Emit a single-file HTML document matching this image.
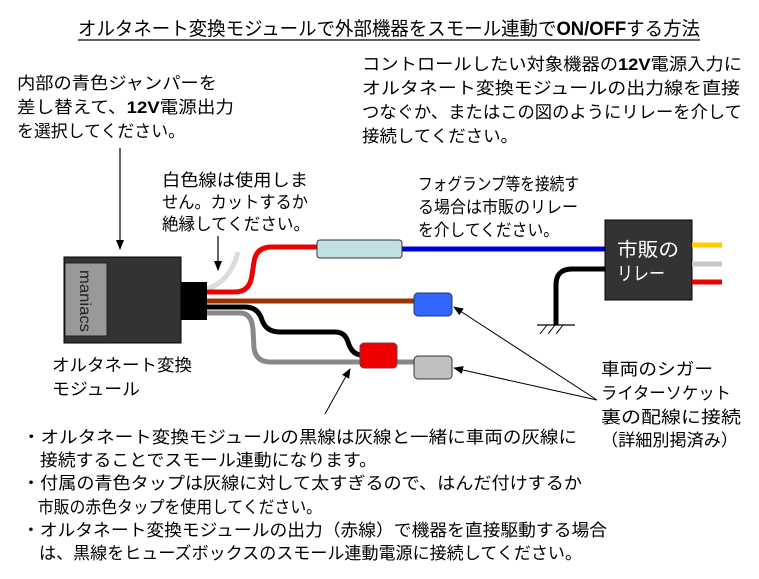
<!DOCTYPE html>
<html><head><meta charset="utf-8"><style>
html,body{margin:0;padding:0;background:#fff;}
svg{display:block;}
text{font-family:"Liberation Sans","Noto Sans CJK JP",sans-serif;font-size:17px;fill:#000;}
</style></head><body>
<svg width="759" height="579" viewBox="0 0 759 579" xmlns="http://www.w3.org/2000/svg">
<defs>
<marker id="ah" markerWidth="10" markerHeight="8" refX="9" refY="4" orient="auto" markerUnits="userSpaceOnUse">
<path d="M0,0 L10,4 L0,8 Z" fill="#000"/></marker>
</defs>
<!-- title -->
<text x="78" y="35" textLength="622" lengthAdjust="spacingAndGlyphs" style="font-size:19px">オルタネート変換モジュールで外部機器をスモール連動で<tspan font-weight="bold">ON/OFF</tspan>する方法</text>
<line x1="78" y1="40" x2="700" y2="40" stroke="#000" stroke-width="1.2"/>
<!-- left text -->
<text x="17" y="89" textLength="200" lengthAdjust="spacingAndGlyphs">内部の青色ジャンパーを</text>
<text x="17" y="113" textLength="217" lengthAdjust="spacingAndGlyphs">差し替えて、<tspan font-weight="bold">12V</tspan>電源出力</text>
<text x="17" y="137" textLength="168" lengthAdjust="spacingAndGlyphs">を選択してください。</text>
<!-- right text -->
<text x="362" y="70" textLength="380" lengthAdjust="spacingAndGlyphs">コントロールしたい対象機器の<tspan font-weight="bold">12V</tspan>電源入力に</text>
<text x="362" y="94" textLength="378" lengthAdjust="spacingAndGlyphs">オルタネート変換モジュールの出力線を直接</text>
<text x="362" y="118" textLength="380" lengthAdjust="spacingAndGlyphs">つなぐか、またはこの図のようにリレーを介して</text>
<text x="362" y="142" textLength="156" lengthAdjust="spacingAndGlyphs">接続してください。</text>
<!-- white wire note -->
<text x="162" y="186" textLength="146" lengthAdjust="spacingAndGlyphs">白色線は使用しま</text>
<text x="162" y="208" textLength="146" lengthAdjust="spacingAndGlyphs">せん。カットするか</text>
<text x="162" y="230" textLength="148" lengthAdjust="spacingAndGlyphs">絶縁してください。</text>
<!-- fog note -->
<text x="418" y="190" textLength="161" lengthAdjust="spacingAndGlyphs">フォグランプ等を接続す</text>
<text x="418" y="213" textLength="160" lengthAdjust="spacingAndGlyphs">る場合は市販のリレー</text>
<text x="418" y="236" textLength="141" lengthAdjust="spacingAndGlyphs">を介してください。</text>
<!-- arrows -->
<line x1="120" y1="148" x2="120" y2="249" stroke="#000" stroke-width="1.2" marker-end="url(#ah)"/>
<line x1="218" y1="236" x2="218" y2="270" stroke="#000" stroke-width="1.2" marker-end="url(#ah)"/>
<line x1="325" y1="414" x2="350" y2="369" stroke="#000" stroke-width="1" marker-end="url(#ah)"/>
<line x1="597" y1="400" x2="454" y2="307" stroke="#000" stroke-width="1" marker-end="url(#ah)"/>
<line x1="597" y1="400" x2="454" y2="368" stroke="#000" stroke-width="1" marker-end="url(#ah)"/>
<!-- wires -->
<path d="M207,289 Q230,282 238,252" fill="none" stroke="#dcdcdc" stroke-width="5"/>
<path d="M207,292 L235,292 Q250,292 252,275 L254,262 Q256,247 272,247 L318,247" fill="none" stroke="#ee0000" stroke-width="5"/>
<path d="M402,249 L606,249" stroke="#0000dd" stroke-width="5"/>
<path d="M207,301 L416,301" stroke="#993300" stroke-width="5"/>
<path d="M207,313 L240,313 Q252,313 253,330 L254,348 Q256,362 270,362 L416,362" fill="none" stroke="#888" stroke-width="5"/>
<path d="M207,307 L245,307 Q258,307 262,320 Q266,332 280,332 L335,332 Q345,332 348,342 Q352,355 362,355" fill="none" stroke="#000" stroke-width="5"/>
<!-- module -->
<rect x="64" y="257" width="117" height="86" fill="#333" stroke="#000"/>
<rect x="65" y="263" width="42" height="73" fill="#999" stroke="#222"/>
<text transform="translate(80,270) rotate(90)" style="font-size:16px;fill:#222" textLength="62" lengthAdjust="spacingAndGlyphs">maniacs</text>
<rect x="181" y="282" width="26" height="38" fill="#000"/>
<text x="52" y="371" textLength="140" lengthAdjust="spacingAndGlyphs">オルタネート変換</text>
<text x="52" y="395" textLength="88" lengthAdjust="spacingAndGlyphs">モジュール</text>
<!-- caps -->
<rect x="317" y="240" width="85" height="18" rx="3" fill="#c0e0e4" stroke="#333"/>
<rect x="414" y="293" width="38" height="23" rx="4" fill="#3366ff" stroke="#223366"/>
<rect x="360" y="343" width="37" height="25" rx="4" fill="#ee0000" stroke="#883333"/>
<rect x="414" y="356" width="38" height="23" rx="4" fill="#c0c0c0" stroke="#333"/>
<!-- relay -->
<path d="M606,269 L572,269 Q556,269 556,285 L556,325" fill="none" stroke="#000" stroke-width="5"/>
<line x1="537" y1="325" x2="575" y2="325" stroke="#000" stroke-width="1.2"/>
<path d="M540,334 L547,325 M548,334 L555,325 M556,334 L563,325" stroke="#000" stroke-width="1"/>
<rect x="605" y="220" width="87" height="80" fill="#333" stroke="#000"/>
<text x="617" y="256" textLength="62" lengthAdjust="spacingAndGlyphs" style="font-size:19px;fill:#fff">市販の</text>
<text x="617" y="280" textLength="48" lengthAdjust="spacingAndGlyphs" style="font-size:19px;fill:#fff">リレー</text>
<line x1="692" y1="245" x2="722" y2="245" stroke="#ffcc00" stroke-width="5"/>
<line x1="692" y1="264" x2="722" y2="264" stroke="#c8c8c8" stroke-width="5"/>
<line x1="692" y1="282" x2="722" y2="282" stroke="#ee0000" stroke-width="5"/>
<!-- cigar note -->
<text x="601" y="375" textLength="112" lengthAdjust="spacingAndGlyphs">車両のシガー</text>
<text x="601" y="399" textLength="130" lengthAdjust="spacingAndGlyphs">ライターソケット</text>
<text x="601" y="423" textLength="140" lengthAdjust="spacingAndGlyphs">裏の配線に接続</text>
<text x="601" y="446" textLength="137" lengthAdjust="spacingAndGlyphs">（詳細別掲済み）</text>
<!-- bullets -->
<text x="22" y="443" textLength="555" lengthAdjust="spacingAndGlyphs">・オルタネート変換モジュールの黒線は灰線と一緒に車両の灰線に</text>
<text x="22" y="466" textLength="355" lengthAdjust="spacingAndGlyphs">　接続することでスモール連動になります。</text>
<text x="22" y="489" textLength="560" lengthAdjust="spacingAndGlyphs">・付属の青色タップは灰線に対して太すぎるので、はんだ付けするか</text>
<text x="22" y="513" textLength="300" lengthAdjust="spacingAndGlyphs">　市販の赤色タップを使用してください。</text>
<text x="22" y="536" textLength="585" lengthAdjust="spacingAndGlyphs">・オルタネート変換モジュールの出力（赤線）で機器を直接駆動する場合</text>
<text x="22" y="559" textLength="560" lengthAdjust="spacingAndGlyphs">　は、黒線をヒューズボックスのスモール連動電源に接続してください。</text>
</svg>
</body></html>
